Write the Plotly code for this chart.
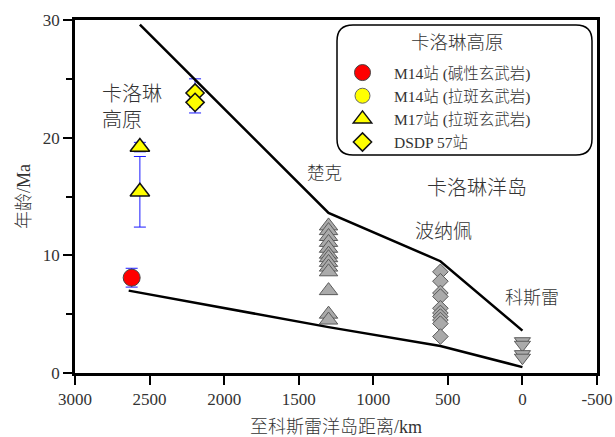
import plotly.graph_objects as go

# ---------------- data ----------------
m14_alk_x = [2620]
m14_alk_y = [8.1]
m14_alk_err = [0.8]

m14_thol_x = [None]
m14_thol_y = [None]

m17_x = [2565, 2565]
m17_y = [19.2, 15.4]
m17_err = [0.4, 3.0]

dsdp_x = [2195, 2195]
dsdp_y = [23.8, 23.0]
dsdp_err = [1.2, 0.9]

chuuk_x = [1300] * 13
chuuk_y = [12.5, 12.1, 11.6, 11.1, 10.6, 10.1, 9.8, 9.4, 9.0, 8.6, 7.0, 5.0, 4.5]

pohnpei_x = [550] * 10
pohnpei_y = [8.6, 7.8, 6.8, 6.5, 5.5, 5.1, 4.8, 4.5, 4.2, 3.1]

kosrae_x = [0] * 4
kosrae_y = [2.7, 2.4, 1.6, 1.3]

upper_x = [2565, 1300, 550, 0]
upper_y = [29.6, 13.6, 9.5, 3.6]
lower_x = [2640, 1300, 550, 0]
lower_y = [7.0, 3.9, 2.3, 0.5]

x_ticks = [3000, 2500, 2000, 1500, 1000, 500, 0, -500]
x_tick_text = ["3000", "2500", "2000", "1500", "1000", "500", "0", "-500"]
y_ticks = [0, 10, 20, 30]

# ---------------- layout helpers ----------------
W, H = 615, 437
L, R, T, B = 75, 18, 20, 64
PW, PH = W - L - R, H - T - B


def px(x):
    return (x - L) / PW


def py(y):
    return (H - B - y) / PH


FONT = "Liberation Serif, Noto Sans CJK SC, serif"
TXT = "#333333"
GRAY = "#aaaaaa"
GRAY_LINE = "#5a5a5a"

fig = go.Figure()

fig.add_trace(go.Scatter(x=chuuk_x, y=chuuk_y, mode="markers", showlegend=False,
                         marker=dict(symbol="triangle-up", size=16, color=GRAY,
                                     line=dict(color=GRAY_LINE, width=1))))
fig.add_trace(go.Scatter(x=pohnpei_x, y=pohnpei_y, mode="markers", showlegend=False,
                         marker=dict(symbol="diamond", size=12, color=GRAY,
                                     line=dict(color=GRAY_LINE, width=1))))
fig.add_trace(go.Scatter(x=kosrae_x, y=kosrae_y, mode="markers", showlegend=False,
                         marker=dict(symbol="triangle-down", size=14, color=GRAY,
                                     line=dict(color=GRAY_LINE, width=1))))

err_style = dict(type="data", thickness=1, width=6, color="#1a1aff")

fig.add_trace(go.Scatter(x=m14_alk_x, y=m14_alk_y, mode="markers", name="M14站 (碱性玄武岩)",
                         error_y=dict(array=m14_alk_err, **err_style),
                         marker=dict(symbol="circle", size=17, color="#ff0000",
                                     line=dict(color="#444444", width=1))))
fig.add_trace(go.Scatter(x=m14_thol_x, y=m14_thol_y, mode="markers", name="M14站 (拉斑玄武岩)",
                         marker=dict(symbol="circle", size=15, color="#ffff00",
                                     line=dict(color="#666666", width=1))))
fig.add_trace(go.Scatter(x=m17_x, y=m17_y, mode="markers", name="M17站 (拉斑玄武岩)",
                         error_y=dict(array=m17_err, **err_style),
                         marker=dict(symbol="triangle-up", size=17, color="#ffff00",
                                     line=dict(color="#111111", width=1.5))))
fig.add_trace(go.Scatter(x=dsdp_x, y=dsdp_y, mode="markers", name="DSDP 57站",
                         error_y=dict(array=dsdp_err, **err_style),
                         marker=dict(symbol="diamond", size=14, color="#ffff00",
                                     line=dict(color="#111111", width=1.5))))

fig.add_trace(go.Scatter(x=upper_x, y=upper_y, mode="lines", showlegend=False,
                         line=dict(color="black", width=2.5)))
fig.add_trace(go.Scatter(x=lower_x, y=lower_y, mode="lines", showlegend=False,
                         line=dict(color="black", width=2.5)))

# rounded legend box
x0, x1, y0, y1, rr = px(337), px(592), py(25), py(155), 16
rx, ry = rr / PW, rr / PH
path = (f"M {x0+rx},{y0} L {x1-rx},{y0} Q {x1},{y0} {x1},{y0-ry} "
        f"L {x1},{y1+ry} Q {x1},{y1} {x1-rx},{y1} L {x0+rx},{y1} "
        f"Q {x0},{y1} {x0},{y1+ry} L {x0},{y0-ry} Q {x0},{y0} {x0+rx},{y0} Z")
fig.add_shape(type="path", path=path, xref="paper", yref="paper",
              line=dict(color="black", width=1.5), fillcolor="white", layer="below")

annots = [
    ("卡洛琳高原", 457, 43, 18.5, "center"),
    ("卡洛琳<br>高原", 100, 107, 20, "left"),
    ("楚克", 324, 173, 17.5, "center"),
    ("卡洛琳洋岛", 477, 188, 20, "center"),
    ("波纳佩", 443, 232, 19, "center"),
    ("科斯雷", 532, 298, 18, "center"),
]
for text, ax_, ay_, fs, anc in annots:
    fig.add_annotation(text=text, x=px(ax_), y=py(ay_), xref="paper", yref="paper",
                       xanchor=anc, yanchor="middle", align="left", showarrow=False,
                       font=dict(family=FONT, size=fs, color=TXT, weight=300))

fig.update_layout(
    width=W, height=H,
    margin=dict(l=L, r=R, t=T, b=B, pad=0, autoexpand=False),
    paper_bgcolor="white", plot_bgcolor="white",
    font=dict(family=FONT, color=TXT),
    legend=dict(x=px(331), y=py(56), xanchor="left", yanchor="top",
                bgcolor="rgba(0,0,0,0)", borderwidth=0,
                itemwidth=53, tracegroupgap=0,
                font=dict(family=FONT, size=15.5, color=TXT, weight=300)),
    xaxis=dict(range=[3000, -500], tickvals=x_ticks, ticktext=x_tick_text,
               automargin=False,
               showgrid=False, zeroline=False, showline=True, linecolor="black",
               linewidth=2.5, mirror=True, ticks="outside", ticklen=9, tickwidth=2,
               tickcolor="black", tickfont=dict(family=FONT, size=17, color=TXT),
               title=dict(text="至科斯雷洋岛距离/km", standoff=15,
                          font=dict(family=FONT, size=18, color=TXT, weight=300))),
    yaxis=dict(range=[0, 30], tickvals=y_ticks, automargin=False,
               showgrid=False, zeroline=False, showline=True, linecolor="black",
               linewidth=2.5, mirror=True, ticks="outside", ticklen=9, tickwidth=2,
               tickcolor="black", tickfont=dict(family=FONT, size=17, color=TXT),
               minor=dict(tickvals=[5, 15, 25], ticks="outside", ticklen=6,
                          tickwidth=2, tickcolor="black"),
               title=dict(text="年龄/Ma", standoff=8,
                          font=dict(family=FONT, size=18, color=TXT, weight=300))),
)

fig.write_html("out.html", config={"displayModeBar": False},
               post_script="document.body.style.margin='0';document.body.style.overflow='hidden';")
